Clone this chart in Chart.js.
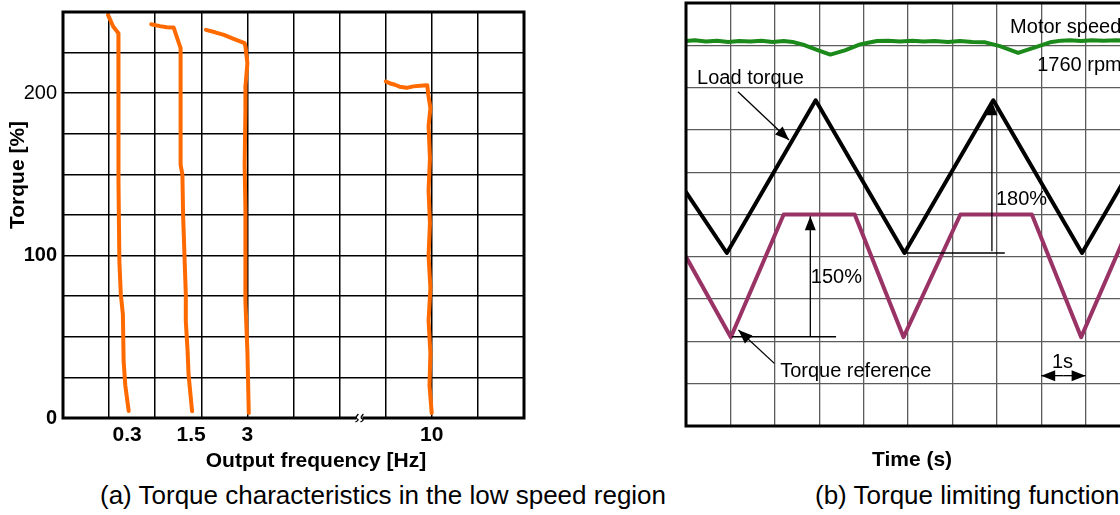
<!DOCTYPE html>
<html>
<head>
<meta charset="utf-8">
<script src="https://cdn.jsdelivr.net/npm/chart.js@4.4.1/dist/chart.umd.min.js"></script>
<style>
  html, body { margin: 0; padding: 0; background: #fff; overflow: hidden; }
  #wrap { position: relative; width: 1120px; height: 515px; overflow: hidden; background: #fff; }
  #lowSpeedChart { position: absolute; left: 0; top: 0; }
  #limitChart { position: absolute; left: 560px; top: 0; }
  .caption { position: absolute; top: 480px; height: 34px; line-height: 34px; white-space: nowrap;
             font: 26px "Liberation Sans", Arial, sans-serif; color: #000; }
</style>
</head>
<body>
<div id="wrap">
  <canvas id="lowSpeedChart" width="560" height="480"></canvas>
  <canvas id="limitChart" width="620" height="480"></canvas>
  <div class="caption" style="left:100px">(a) Torque characteristics in the low speed region</div>
  <div class="caption" style="left:815px">(b) Torque limiting function</div>
</div>
<script>
// ---- (a) torque vs output frequency ----
// x is in grid columns: the axis has a break between 3 Hz and 10 Hz
const freqTickPos = [1.39, 2.78, 4, 8];
const freqTickLabels = ['0.3', '1.5', '3', '10'];
const torqueLabels = [0, 100, 200];

const hz03X = [0.976, 1.089, 1.202, 1.205, 1.202, 1.223, 1.254, 1.299, 1.315, 1.351, 1.425];
const hz03Y = [248.2, 241.1, 236.9, 190.0, 145.6, 96.3, 76.1, 63.8, 35.0, 20.2, 4.3];

const hz15X = [1.913, 2.10, 2.25, 2.401, 2.477, 2.551, 2.551, 2.590, 2.605, 2.664, 2.664, 2.703, 2.724, 2.800];
const hz15Y = [242.5, 241.3, 240.6, 240.4, 233.9, 227.7, 155.9, 149.8, 125.1, 75.9, 59.5, 41.1, 26.6, 4.1];

const hz3X = [3.10, 3.30, 3.49, 3.70, 3.94, 3.957, 4.00, 3.96, 3.957, 3.94, 3.957, 3.957, 4.00, 4.03];
const hz3Y = [239.0, 237.5, 235.9, 233.5, 230.8, 228.7, 218.5, 205.0, 188.7, 155.9, 129.2, 71.8, 41.0, 3.1];

const hz10X = [7.002, 7.10, 7.20, 7.30, 7.455, 7.60, 7.75, 7.902, 7.924, 7.97, 7.93, 7.96, 7.93, 7.96, 7.93, 7.97, 7.93, 7.97, 7.95, 7.998];
const hz10Y = [207.2, 206.0, 205.2, 204.0, 203.3, 204.2, 204.6, 204.9, 199.0, 190.8, 180.0, 160.0, 140.0, 120.0, 100.0, 80.0, 60.0, 40.0, 20.0, 3.1];

// ---- (b) torque limiting, x in seconds, y in grid divisions ----
const speedTime = [0, 0.2, 0.45, 0.7, 0.95, 1.2, 1.45, 1.7, 1.95, 2.2, 2.4, 2.68, 2.98, 3.25, 3.58, 3.92, 4.1, 4.3, 4.55, 4.82,
  5.1, 5.35, 5.6, 5.9, 6.17, 6.45, 6.74, 7.07, 7.48, 7.86, 8.2, 8.45, 8.65, 8.9, 9.15, 9.4, 9.7, 10];
const speedLevel = [9.10, 9.12, 9.09, 9.11, 9.08, 9.10, 9.09, 9.11, 9.08, 9.10, 9.08, 9.00, 8.88, 8.78, 8.88, 9.02, 9.06, 9.10, 9.11, 9.09,
  9.11, 9.09, 9.10, 9.08, 9.10, 9.08, 9.07, 8.98, 8.82, 8.95, 9.07, 9.11, 9.12, 9.10, 9.12, 9.11, 9.12, 9.11];

const loadTime = [0, 0.92, 2.92, 4.92, 6.92, 8.92, 10.92];
const loadTorque = [5.53, 4.09, 7.70, 4.09, 7.70, 4.09, 7.70];

const refTime = [0, 1.01, 2.20, 3.80, 4.90, 6.18, 7.79, 8.90, 10.10, 11.70];
const refTorque = [4.00, 2.10, 5.00, 5.00, 2.10, 5.00, 5.00, 2.10, 5.00, 5.00];

document.addEventListener('DOMContentLoaded', function () {
  const FONT = '"Liberation Sans", Arial, sans-serif';
  const palette = {
    curve: '#ff6a00',
    speed: '#1b8a1b',
    load: '#000000',
    reference: '#993366',
    gridA: '#000000',
    gridB: '#5c5c5c'
  };

  const toPoints = (xs, ys) => xs.map((x, i) => ({ x: x, y: ys[i] }));

  const lineSet = (xs, ys, color, width) => ({
    data: toPoints(xs, ys),
    showLine: true,
    borderColor: color,
    backgroundColor: color,
    borderWidth: width,
    pointRadius: 0,
    tension: 0,
    borderJoinStyle: 'round',
    borderCapStyle: 'round'
  });

  // thick frame round the plot area
  const framePlugin = {
    id: 'frame',
    afterDatasetsDraw(chart) {
      const a = chart.chartArea;
      const ctx = chart.ctx;
      ctx.save();
      ctx.strokeStyle = '#000';
      ctx.lineWidth = 3;
      ctx.strokeRect(a.left, a.top, a.right - a.left, a.bottom - a.top);
      ctx.restore();
    }
  };

  // axis titles placed like the paper figure
  const titlesPlugin = {
    id: 'paperTitles',
    afterDraw(chart, args, opts) {
      const ctx = chart.ctx;
      (opts.items || []).forEach((it) => {
        ctx.save();
        ctx.font = it.font;
        ctx.fillStyle = '#000';
        ctx.textAlign = 'center';
        ctx.textBaseline = 'middle';
        ctx.translate(it.x, it.y);
        if (it.rotate) ctx.rotate(it.rotate);
        ctx.fillText(it.text, 0, 0);
        ctx.restore();
      });
    }
  };

  // little break mark on the frequency axis
  const breakPlugin = {
    id: 'axisBreak',
    afterDraw(chart, args, opts) {
      const ctx = chart.ctx;
      const x = chart.scales.x.getPixelForValue(opts.at);
      const y = chart.chartArea.bottom;
      ctx.save();
      ctx.fillStyle = '#fff';
      ctx.fillRect(x - 3, y - 3, 6, 6);
      ctx.strokeStyle = '#000';
      ctx.lineWidth = 1.3;
      [-2.5, 2.5].forEach((dx) => {
        ctx.beginPath();
        ctx.moveTo(x + dx + 1.5, y - 4);
        ctx.quadraticCurveTo(x + dx - 2.5, y, x + dx + 0.5, y + 1);
        ctx.quadraticCurveTo(x + dx + 2.5, y + 2, x + dx - 1.5, y + 4);
        ctx.stroke();
      });
      ctx.restore();
    }
  };

  new Chart(document.getElementById('lowSpeedChart'), {
    type: 'scatter',
    data: {
      datasets: [
        lineSet(hz03X, hz03Y, palette.curve, 4),
        lineSet(hz15X, hz15Y, palette.curve, 4),
        lineSet(hz3X, hz3Y, palette.curve, 4),
        lineSet(hz10X, hz10Y, palette.curve, 4)
      ]
    },
    options: {
      responsive: false,
      animation: false,
      devicePixelRatio: 1,
      layout: { padding: { top: 12, right: 36, left: 0, bottom: 0 } },
      plugins: {
        legend: { display: false },
        tooltip: { enabled: false },
        axisBreak: { at: 6.43 },
        paperTitles: {
          items: [
            { text: 'Output frequency [Hz]', x: 316, y: 461, font: 'bold 21px ' + FONT },
            { text: 'Torque [%]', x: 18, y: 175, font: 'bold 21px ' + FONT, rotate: -Math.PI / 2 }
          ]
        }
      },
      scales: {
        x: {
          type: 'linear',
          min: 0,
          max: 10,
          afterBuildTicks: (scale) => {
            const ticks = [];
            for (let i = 0; i <= 10; i++) ticks.push({ value: i });
            freqTickPos.forEach((v) => { if (!Number.isInteger(v)) ticks.push({ value: v }); });
            scale.ticks = ticks.sort((a, b) => a.value - b.value);
          },
          afterFit: (scale) => {
            scale.height = 62;
            scale.paddingLeft = 0;
            scale.paddingRight = 0;
          },
          grid: {
            color: (c) => (c.tick && Number.isInteger(c.tick.value) ? palette.gridA : 'rgba(0,0,0,0)'),
            lineWidth: 1.5,
            drawTicks: false
          },
          border: { display: false },
          ticks: {
            autoSkip: false,
            maxRotation: 0,
            padding: 5,
            color: '#000',
            font: { family: FONT, size: 21, weight: 'bold' },
            callback: (value) => {
              const i = freqTickPos.indexOf(value);
              return i >= 0 ? freqTickLabels[i] : '';
            }
          }
        },
        y: {
          min: 0,
          max: 250,
          afterFit: (scale) => {
            scale.width = 63;
            scale.paddingTop = 0;
            scale.paddingBottom = 0;
          },
          grid: { color: palette.gridA, lineWidth: 1.5, drawTicks: false },
          border: { display: false },
          ticks: {
            stepSize: 25,
            autoSkip: false,
            padding: 6,
            color: '#000',
            font: (c) => ({ family: FONT, size: 20, weight: (c.tick && c.tick.value === 200) ? 'normal' : 'bold' }),
            callback: (value) => (torqueLabels.includes(value) ? String(value) : '')
          }
        }
      }
    },
    plugins: [framePlugin, breakPlugin, titlesPlugin]
  });

  // notes and arrows of panel (b), placed in data units
  const notes = [
    { text: 'Motor speed', x: 7.30, y: 9.43 },
    { text: '1760 rpm', x: 7.91, y: 8.53 },
    { text: 'Load torque', x: 0.25, y: 8.22 },
    { text: 'Torque reference', x: 2.12, y: 1.28 },
    { text: '150%', x: 2.81, y: 3.51 },
    { text: '180%', x: 6.98, y: 5.36 },
    { text: '1s', x: 8.48, y: 1.50, center: true }
  ];
  const arrows = [
    { from: [1.17, 7.90], to: [2.32, 6.76] },
    { from: [1.99, 1.48], to: [1.18, 2.27] },
    { from: [2.80, 2.11], to: [2.80, 4.96] },
    { from: [6.89, 4.13], to: [6.89, 7.68] },
    { from: [8.50, 1.19], to: [9.00, 1.19] },
    { from: [8.50, 1.19], to: [8.00, 1.19] }
  ];
  const guides = [
    { from: [1.03, 2.11], to: [3.38, 2.11] },
    { from: [4.90, 4.09], to: [7.18, 4.09] }
  ];

  const notesPlugin = {
    id: 'notes',
    afterDatasetsDraw(chart) {
      const ctx = chart.ctx;
      const sx = chart.scales.x;
      const sy = chart.scales.y;
      const px = (p) => [sx.getPixelForValue(p[0]), sy.getPixelForValue(p[1])];
      ctx.save();
      ctx.strokeStyle = '#000';
      ctx.fillStyle = '#000';
      ctx.lineWidth = 1.3;
      guides.concat(arrows).forEach((g) => {
        const a = px(g.from);
        const b = px(g.to);
        ctx.beginPath();
        ctx.moveTo(a[0], a[1]);
        ctx.lineTo(b[0], b[1]);
        ctx.stroke();
      });
      arrows.forEach((g) => {
        const a = px(g.from);
        const b = px(g.to);
        const ang = Math.atan2(b[1] - a[1], b[0] - a[0]);
        const len = 14;
        const half = 5.5;
        ctx.beginPath();
        ctx.moveTo(b[0], b[1]);
        ctx.lineTo(b[0] - len * Math.cos(ang) + half * Math.sin(ang), b[1] - len * Math.sin(ang) - half * Math.cos(ang));
        ctx.lineTo(b[0] - len * Math.cos(ang) - half * Math.sin(ang), b[1] - len * Math.sin(ang) + half * Math.cos(ang));
        ctx.closePath();
        ctx.fill();
      });
      ctx.font = '20px ' + FONT;
      ctx.textBaseline = 'middle';
      notes.forEach((n) => {
        const p = px([n.x, n.y]);
        ctx.textAlign = n.center ? 'center' : 'left';
        ctx.fillText(n.text, p[0], p[1]);
      });
      ctx.restore();
    }
  };

  const hiddenAxis = {
    type: 'linear',
    min: 0,
    max: 10,
    ticks: { display: false, stepSize: 1 },
    grid: { color: palette.gridB, lineWidth: 1.3, drawTicks: false },
    border: { display: false }
  };

  new Chart(document.getElementById('limitChart'), {
    type: 'scatter',
    data: {
      datasets: [
        lineSet(speedTime, speedLevel, palette.speed, 4),
        lineSet(loadTime, loadTorque, palette.load, 4),
        lineSet(refTime, refTorque, palette.reference, 4)
      ]
    },
    options: {
      responsive: false,
      animation: false,
      devicePixelRatio: 1,
      layout: { padding: { left: 126, top: 3, right: 50, bottom: 54 } },
      plugins: {
        legend: { display: false },
        tooltip: { enabled: false },
        paperTitles: {
          items: [
            { text: 'Time (s)', x: 352, y: 460, font: 'bold 21px ' + FONT }
          ]
        }
      },
      scales: {
        x: Object.assign({}, hiddenAxis),
        y: Object.assign({}, hiddenAxis)
      }
    },
    plugins: [framePlugin, notesPlugin, titlesPlugin]
  });
});
</script>
</body>
</html>
